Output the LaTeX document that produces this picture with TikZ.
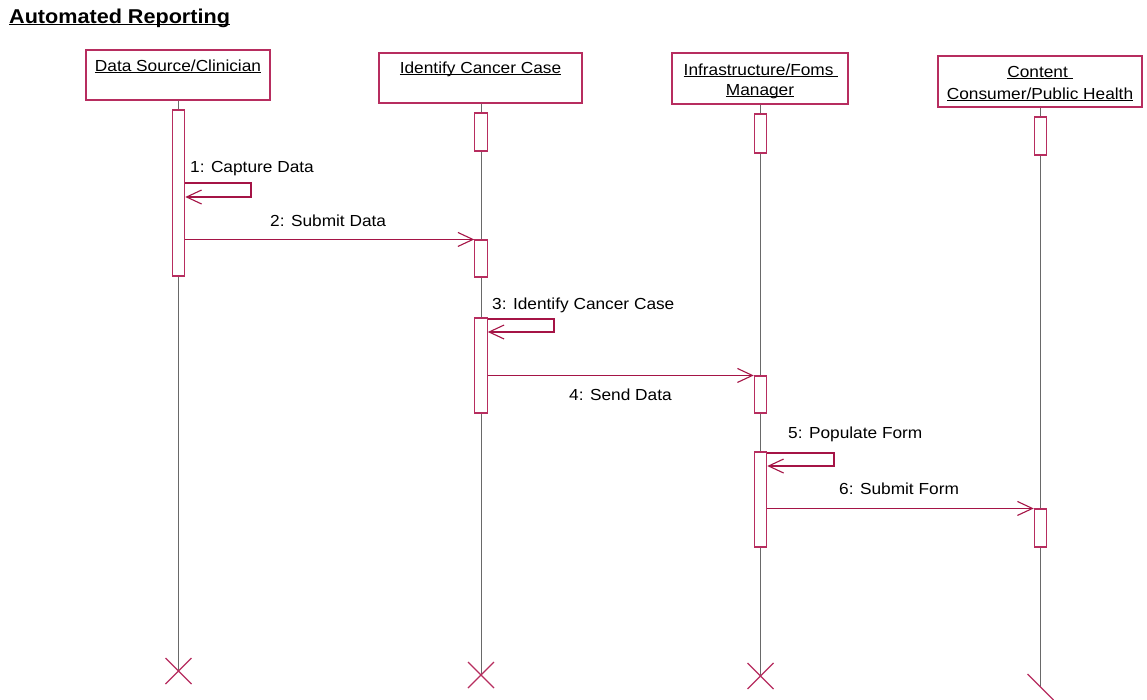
\documentclass[tikz,border=0pt]{standalone}
\usepackage{fontspec}
\setmainfont{Liberation Sans}[FakeStretch=1.08]
\usetikzlibrary{arrows.meta}
\definecolor{umlred}{RGB}{183,45,95}
\definecolor{msgred}{RGB}{165,20,70}
\definecolor{lifegray}{RGB}{105,105,105}
\newcommand\myul[2][1pt]{\setbox0\hbox{#2}\rlap{\rule[-2.2pt]{\wd0}{#1}}\box0}
\begin{document}
\begin{tikzpicture}[x=1pt,y=-1pt,
  headbox/.style={draw=umlred, line width=1.1pt, rectangle, inner sep=0pt},
  headtext/.style={anchor=base, inner sep=0pt, font=\fontsize{16}{19}\selectfont},
  lifeline/.style={draw=lifegray, line width=0.8pt},
  actbar/.style={draw=umlred, fill=white, line width=1.1pt, rectangle, inner sep=0pt, minimum width=12.5pt},
  msg/.style={draw=msgred, line width=1.1pt, -{Straight Barb[length=15pt,width=14pt]}},
  msglabel/.style={anchor=base west, inner sep=0pt, font=\fontsize{16}{19}\selectfont},
  xmark/.style={draw=umlred, line width=1.1pt}]
\fill[white] (0,0) rectangle (1147,699);
\clip (0,0) rectangle (1147,699);

% title
\node[anchor=base west, inner sep=0pt, font=\fontsize{20}{24}\selectfont\bfseries] (title) at (9,23) {\myul[1.5pt]{Automated Reporting}};

% header boxes
\node[headbox, minimum width=184pt, minimum height=50pt] (h1) at (178,75) {};
\node[headbox, minimum width=203pt, minimum height=50pt] (h2) at (480.5,78) {};
\node[headbox, minimum width=176pt, minimum height=51pt] (h3) at (760,78.5) {};
\node[headbox, minimum width=204pt, minimum height=51pt] (h4) at (1040,81.5) {};

\node[headtext] (t1) at (178,71) {\myul{Data Source/Clinician}};
\node[headtext] (t2) at (480.5,73) {\myul{Identify Cancer Case}};
\node[headtext] (t3a) at (761,75) {\myul{Infrastructure/Foms\ }};
\node[headtext] (t3b) at (760,95) {\myul{Manager}};
\node[headtext] (t4a) at (1040,77) {\myul{Content\ }};
\node[headtext] (t4b) at (1040,99) {\myul{Consumer/Public Health}};

% lifeline ends
\coordinate (x1) at (178.5,671);
\coordinate (x2) at (481,675);
\coordinate (x3) at (760.5,676);
\coordinate (x4) at (1040.5,687);

\draw[lifeline] (h1.south -| x1) -- (x1);
\draw[lifeline] (h2.south -| x2) -- (x2);
\draw[lifeline] (h3.south -| x3) -- (x3);
\draw[lifeline] (h4.south -| x4) -- (x4);

% activation bars
\node[actbar, minimum height=166pt] (b1) at (178.5,193) {};
\node[actbar, minimum height=38pt] (b2a) at (481,132) {};
\node[actbar, minimum height=37pt] (b2b) at (481,258.5) {};
\node[actbar, minimum height=95pt] (b2c) at (481,365.5) {};
\node[actbar, minimum height=39pt] (b3a) at (760.5,133.5) {};
\node[actbar, minimum height=37pt] (b3b) at (760.5,394.5) {};
\node[actbar, minimum height=95pt] (b3c) at (760.5,499.5) {};
\node[actbar, minimum height=38pt] (b4a) at (1040.5,136) {};
\node[actbar, minimum height=38pt] (b4b) at (1040.5,528) {};

% message 1 (self)
\coordinate (m1a) at (251,183);
\coordinate (m1b) at (251,197);
\draw[msg] (b1.east |- m1a) -- (m1a) -- (m1b) -- (b1.east |- m1b);
\node[msglabel] (l1) at (190,172) {1: Capture Data};

% message 2
\draw[msg] (b1.east |- b2b.north) -- (b2b.north west);
\node[msglabel] (l2) at (270,226) {2: Submit Data};

% message 3 (self)
\coordinate (m3a) at (554,319);
\coordinate (m3b) at (554,332);
\draw[msg] (b2c.east |- m3a) -- (m3a) -- (m3b) -- (b2c.east |- m3b);
\node[msglabel] (l3) at (492,309) {3: Identify Cancer Case};

% message 4
\draw[msg] (b2c.east |- b3b.north) -- (b3b.north west);
\node[msglabel] (l4) at (569,400) {4: Send Data};

% message 5 (self)
\coordinate (m5a) at (834,453);
\coordinate (m5b) at (834,466);
\draw[msg] (b3c.east |- m5a) -- (m5a) -- (m5b) -- (b3c.east |- m5b);
\node[msglabel] (l5) at (788,438) {5: Populate Form};

% message 6
\draw[msg] (b3c.east |- b4b.north) -- (b4b.north west);
\node[msglabel] (l6) at (839,494) {6: Submit Form};

% destruction marks
\draw[xmark] (x1) +(-13,-13) -- +(13,13) (x1) +(-13,13) -- +(13,-13);
\draw[xmark] (x2) +(-13,-13) -- +(13,13) (x2) +(-13,13) -- +(13,-13);
\draw[xmark] (x3) +(-13,-13) -- +(13,13) (x3) +(-13,13) -- +(13,-13);
\draw[xmark] (x4) +(-13,-13) -- +(13,13);
\end{tikzpicture}
\end{document}
